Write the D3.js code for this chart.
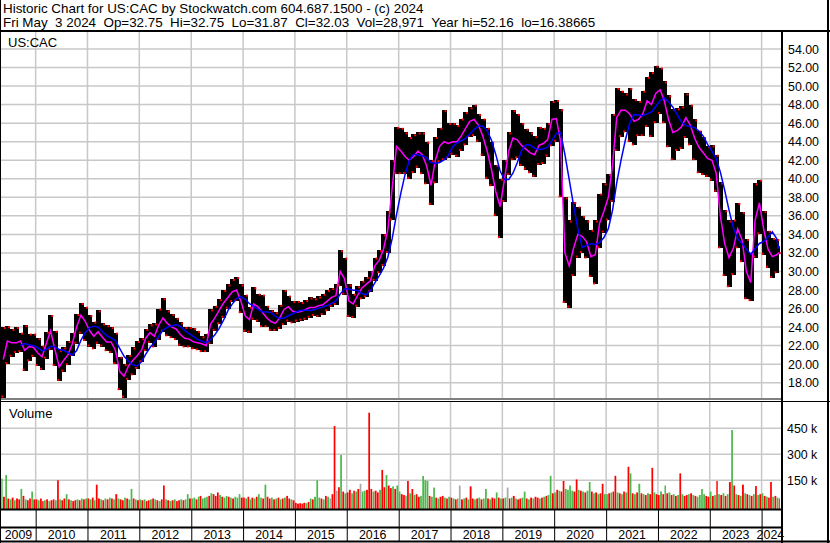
<!DOCTYPE html>
<html>
<head>
<meta charset="utf-8">
<script src="https://cdn.jsdelivr.net/npm/d3@7"></script>
<style>
body{margin:0;background:#fff}
text{font-family:"Liberation Sans",Arial,sans-serif;font-size:13px;fill:#000}
text.hd{font-size:13.4px}
text.ax{font-size:12.4px}
</style>
</head>
<body>
<svg id="c" width="830" height="543"></svg>
<script>
// monthly high / low / average close, May 2009 .. May 2024
var hi = [24,24.1,23.8,24,23.4,24.2,23.3,23.3,
  22.8,22,23.5,25.3,23.6,21.5,21.8,22.5,23.4,25.4,26.6,26.2,
  25.3,24.6,25.8,24.4,24.2,24,23.4,20.8,20,21,21.8,22.5,
  22.8,23.8,24.3,24.4,26,27.1,25.8,25.4,25,24.5,24,24,
  23.9,23.6,23,23.3,25.9,26.3,27,28,28.6,29.2,29.4,28.6,
  27.5,26.2,28.3,27.6,27.5,26.3,25.8,25.6,26.4,28,27.4,26.8,
  26.8,26.7,26.9,27.2,27.1,27.3,27.6,28,28.2,28.6,32.3,31.5,
  28.6,27.6,28.4,29,29.4,30,31.5,32.3,34,36.5,42,45.6,
  45.5,45,44.5,44.8,45,45,44,42,44.5,45.5,47.4,46,
  46,45.8,46.5,47.2,47.7,48,47,46.5,45.5,44,41.5,40,
  42,45,47.4,47,46,45.4,45,44.6,45.6,45.5,46,48.4,
  48.5,47.5,38,35.5,37.5,37,36,35.5,34.5,35.5,38.4,39.5,
  40.5,47,49.8,49.5,49.2,49.8,48.6,48.4,49.5,51,51.5,52.2,
  52,50.5,49,47.5,47.6,47.8,49.2,48,46.4,45.2,44.5,43.5,
  43.6,42.6,39.6,36.6,35.5,35.6,37.4,36.4,33.5,32,39.5,39.9,
  36.5,34.4,33.6,33.5,32.75]
var lo = [16.4,20,20.8,21.2,21.3,19.3,20.3,20.8,
  19.8,19.4,20.6,21.5,19.8,18.2,19.2,19.9,20.9,22.2,23.3,22.5,
  21.9,21.6,22.2,21.9,21.4,21.2,20,17.2,16.4,18.3,18.8,19.5,
  20.2,21.4,22.3,21.8,22.6,23.5,23,22.8,22.6,22,21.8,21.8,
  21.6,21.5,21.3,21.3,22.2,23.6,24.3,25,26,26.7,26.8,25.5,
  23.5,23.4,24.8,24.6,24,24,23.6,23.6,23.8,24.2,24.6,24.4,
  24.6,24.7,24.8,25,25.2,25.1,25.3,25.7,26.2,26.4,28.4,27.5,
  25.1,25,26.2,27,27.2,27.8,29,29.8,30.6,32,35.5,40.5,
  40.5,40.5,40,40.6,41.2,40.5,39.4,37.2,39.5,41.8,42,42.2,
  42.6,42.4,43,43.6,44.5,44.6,44,42.5,40,39.2,36,33.6,
  37.5,40.4,42,42.2,41.4,41,40.6,40.2,41.5,41.6,42.4,43.5,
  44,38,26.6,26.1,29.5,31.5,32,31.4,29.4,28.6,32.5,34.2,
  35.5,37.5,43,44.5,45,44,43.6,44.6,44.6,45.6,44.5,46,
  47,46,43.4,42,43,43.2,44.4,43.6,42,40.6,40.4,40.2,
  39.8,38.6,32.5,29.5,28.3,29.6,32.5,31,27,26.8,31.5,34,
  31.8,30.4,29.3,29.8,31.87]
var cl = [20.5,22.5,22.3,22.3,22.5,21.5,21.9,21.8,
  21.2,20.8,22.2,23.6,21.6,19.7,20.4,21,22.2,24,25.3,24.6,
  23.6,23,23.5,22.9,22.4,22.4,21.5,19.2,18.7,19.8,20.4,20.9,
  21.5,22.8,23.4,23,24.2,25,24.4,24,23.8,23.2,22.8,22.7,
  22.4,22.3,22.2,22,24.3,25,25.8,26.6,27.2,27.8,28,26.8,
  25.2,24.8,26.5,26.2,25.6,25,24.6,24.4,25,25.9,26.2,25.7,
  25.6,25.7,25.9,26.1,26.1,26.3,26.4,26.8,27.2,27.4,30,29.2,
  26.8,26.5,27.4,28.2,28.6,29,30.6,31.2,32.4,34.5,39,43.5,
  43,42.4,42,42.4,43,42.6,41.4,39.3,42,43.5,44,43.8,
  44,44,44.6,45.4,46.2,46.4,45.8,44.6,43,41,38.6,37,
  40,43,44.4,44.2,43.6,43.2,42.8,42.6,43.6,43.8,44.2,46.4,
  46.5,44,32,30.6,32.5,34,33.8,33.2,31.6,31.8,35.2,36.5,
  38,41.5,46.6,47.4,47.4,47,46.2,46.4,47,48.4,48,49.2,
  49.6,48.4,46.4,45,45.2,45.6,46.6,45.8,44.4,43.4,42.8,42.2,
  42,40.6,36,33,31.5,32.5,34.6,33.4,30,28.8,35.5,37.4,
  34.5,32.4,31.6,31.8,32.03]

// peak daily volume (thousands) for each half month, and its colour (r=down g=up a=flat)
var vol = [160,55,180,45,40,50,35,45,40,100,60,40,35,45,85,40,
  40,35,45,30,35,40,30,35,40,35,150,40,35,45,70,40,35,30,35,40,35,45,40,45,
  45,40,50,35,125,45,40,35,45,40,50,45,40,70,45,40,35,50,45,40,100,45,40,35,
  40,35,40,30,35,40,45,40,35,30,40,120,40,35,30,35,40,30,35,40,35,40,70,45,
  45,50,40,55,60,45,50,55,60,75,70,60,80,65,55,50,60,55,50,45,55,50,70,50,
  50,45,55,40,50,45,55,70,50,45,125,55,45,50,40,45,50,40,45,50,60,45,40,35,
  20,15,18,15,20,18,25,45,40,55,150,50,45,40,60,55,45,70,463,90,110,296,85,75,
  80,95,75,90,85,100,130,85,90,95,540,100,85,90,80,95,210,110,180,120,105,115,100,120,
  85,70,65,60,146,75,100,65,70,55,60,175,150,146,60,55,108,50,45,55,60,50,45,55,
  50,45,40,45,120,40,45,50,40,115,45,40,45,50,40,45,100,45,40,50,45,80,50,45,
  45,50,108,45,50,60,45,40,45,50,85,45,40,50,45,55,50,45,50,55,60,65,176,75,
  80,95,90,85,146,100,95,120,90,85,155,95,90,85,80,90,140,85,75,80,70,75,130,70,
  70,75,80,85,176,80,75,70,85,80,228,190,75,70,80,130,75,70,65,75,70,222,80,70,
  65,85,70,120,75,80,65,70,60,65,190,70,60,65,70,75,65,60,55,65,100,70,60,55,
  85,60,65,146,70,65,75,60,70,140,440,120,70,65,60,125,75,70,65,60,70,117,65,70,
  75,60,55,50,140,55,60,50,45]
var volColor = ["grgrgrgrrgrgrrgr",
  "rgrrgrgrrgrgrrgrgrrgrgrg","rgrgrrgrgrgrgrgrrgrggrgr","grgrrgrgrgrrgrgrgrrgrggr",
  "ggrgrgggrgrrrgrggrgrgggr","rgrgrgrggrgrrgrgrgrgrrgr","rrrrrgrgrgggrgrgarrargrg",
  "rrgrgraggrrrgrrgrrgrrgrg","grrgrgrgrrggggrggrgrrgrg","rgrgargrgrrgrgrggrgrrgrg",
  "rgargrgrrggrgrgrrgrgrggr","grgrrggggrrgrgrggrgrgrrg","grgrrgrgrgrgrgrgrgrgrrgr",
  "rgrgrgrgrgrgrrgrgrggggrr","grgrgrgrgrgrgrgrgrgrgrgr","grgrrgrgr"].join("")

var priceTicks = [18,20,22,24,26,28,30,32,34,36,38,40,42,44,46,48,50,52,54]
var volTicks = [150,300,450]
var years = [2009,2010,2011,2012,2013,2014,2015,2016,2017,2018,2019,2020,2021,2022,2023,2024]

var svg = d3.select("#c")
var start = new Date(2009,4,4), end = new Date(2024,4,3,23)
var x = d3.scaleTime().domain([start,end]).range([1.3,779.2])
var y = d3.scaleLinear().domain([18,54]).range([382.7,49])
var yv = d3.scaleLinear().domain([0,450]).range([506.3,428.3])
var months = d3.timeMonth.range(new Date(2009,4,1), new Date(2024,5,1))
function clamp(d){ return d<start?start:(d>end?end:d) }

svg.append("rect").attr("width",830).attr("height",543).attr("fill","#fff")

var defs = svg.append("defs")
defs.append("clipPath").attr("id","pc").append("rect").attr("x",0).attr("y",32).attr("width",781).attr("height",366)
defs.append("clipPath").attr("id","vc").append("rect").attr("x",0).attr("y",402).attr("width",781).attr("height",107)

// grid
var grid = svg.append("g").attr("stroke","#c8c8c8").attr("stroke-width",1.5)
grid.selectAll(".hp").data(priceTicks).enter().append("line")
  .attr("x1",0).attr("x2",781).attr("y1",function(d){return y(d)}).attr("y2",function(d){return y(d)})
grid.selectAll(".hv").data(volTicks).enter().append("line").attr("class","hv")
  .attr("x1",0).attr("x2",781).attr("y1",function(d){return yv(d)}).attr("y2",function(d){return yv(d)})
var yearTicks = years.slice(1).map(function(yr){return new Date(yr,0,1)})
grid.selectAll(".vp").data(yearTicks).enter().append("line").attr("class","vp")
  .attr("x1",function(d){return x(d)}).attr("x2",function(d){return x(d)}).attr("y1",32).attr("y2",398)
grid.selectAll(".vv").data(yearTicks).enter().append("line").attr("class","vv")
  .attr("x1",function(d){return x(d)}).attr("x2",function(d){return x(d)}).attr("y1",402).attr("y2",509)

// price bars (one per month, high to low)
var pg = svg.append("g").attr("clip-path","url(#pc)")
pg.selectAll(".bar").data(months).enter().append("rect").attr("class","bar")
  .attr("x",function(m){return x(clamp(m))})
  .attr("width",function(m){return Math.max(1.2, x(clamp(d3.timeMonth.offset(m,1)))-x(clamp(m))+0.6)})
  .attr("y",function(m,i){return y(hi[i])})
  .attr("height",function(m,i){return Math.max(1, y(lo[i])-y(hi[i]))})
  .attr("fill","#000").attr("shape-rendering","crispEdges")
pg.selectAll(".rt").data(months).enter().append("rect").attr("class","rt")
  .attr("x",function(m){return x(clamp(d3.timeMonth.offset(m,1)))-1.5})
  .attr("y",function(m,i){return y(hi[i])}).attr("width",2).attr("height",2).attr("fill","#ff0000")
pg.selectAll(".rb").data(months).enter().append("rect").attr("class","rb")
  .attr("x",function(m){return x(clamp(m))})
  .attr("y",function(m,i){return y(lo[i])-2}).attr("width",2).attr("height",2).attr("fill","#ff0000")

function mid(m){ var a=clamp(m), b=clamp(d3.timeMonth.offset(m,1)); return new Date((+a + +b)/2) }
// blue = trailing 5-month average of the monthly closes
var ma = cl.map(function(v,i){ return i<4 ? null : d3.mean(cl.slice(i-4,i+1)) })
var line = d3.line().x(function(d,i){return x(mid(months[i]))}).y(function(d){return y(d)})
pg.append("path").datum(cl).attr("d",line).attr("fill","none").attr("stroke","#ff00ff").attr("stroke-width",1.5)
pg.append("path").datum(ma).attr("d",line.defined(function(d){return d!=null})).attr("fill","none").attr("stroke","#0000ff").attr("stroke-width",1.5)

// volume
var halves = []
months.forEach(function(m){
  var h = new Date(m.getFullYear(), m.getMonth(), 16)
  halves.push([clamp(m), clamp(h)]); halves.push([clamp(h), clamp(d3.timeMonth.offset(m,1))])
})
halves = halves.slice(0, vol.length)
var colors = {r:"#ff0000", g:"#4cb84c", a:"#a8a8a8"}
svg.append("g").attr("clip-path","url(#vc)").selectAll("rect").data(halves).enter().append("rect")
  .attr("x",function(d){return x(d[0])})
  .attr("width",function(d){return Math.max(1, x(d[1])-x(d[0])-0.4)})
  .attr("y",function(d,i){return yv(vol[i])})
  .attr("height",function(d,i){return 509-yv(vol[i])})
  .attr("fill",function(d,i){return colors[volColor[i]]})

// frame
var fr = svg.append("g").attr("stroke","#000")
function ln(x1,y1,x2,y2,w){ fr.append("line").attr("x1",x1).attr("y1",y1).attr("x2",x2).attr("y2",y2).attr("stroke-width",w) }
ln(0,31,830,31,2)
ln(828,0,828,543,2)
ln(0.5,0,0.5,543,1)
ln(0,541.5,830,541.5,2)
ln(782,31,782,543,2)
ln(0,399,782,399,1)
ln(0,401.5,830,401.5,1)
ln(0,509.5,782,509.5,2)
ln(0,527.5,782,527.5,2)
yearTicks.forEach(function(d){ ln(x(d)+0.5,510,x(d)+0.5,541,1) })

// texts
svg.append("text").attr("class","hd").attr("x",3).attr("y",12.7).style("white-space","pre")
  .text("Historic Chart for US:CAC by Stockwatch.com 604.687.1500 - (c) 2024")
svg.append("text").attr("class","hd").attr("x",3).attr("y",27.3).style("white-space","pre")
  .text("Fri May  3 2024  Op=32.75  Hi=32.75  Lo=31.87  Cl=32.03  Vol=28,971  Year hi=52.16  lo=16.38665")
svg.append("text").attr("x",8).attr("y",46.5).text("US:CAC")
svg.append("text").attr("x",9).attr("y",418.3).text("Volume")

svg.selectAll(".pl").data(priceTicks).enter().append("text").attr("class","pl ax")
  .attr("x",788).attr("y",function(d){return y(d)+4.5}).text(function(d){return d.toFixed(2)})
svg.selectAll(".vl").data(volTicks).enter().append("text").attr("class","vl ax")
  .attr("x",787).attr("y",function(d){return yv(d)+4.5}).text(function(d){return d+" k"})
svg.selectAll(".yl").data(years).enter().append("text").attr("class","yl ax")
  .attr("text-anchor","middle").attr("y",539)
  .attr("x",function(yr){ var a=clamp(new Date(yr,0,1)), b=clamp(new Date(yr+1,0,1)); return (x(a)+x(b))/2 })
  .text(function(yr){return yr})
</script>
</body>
</html>
